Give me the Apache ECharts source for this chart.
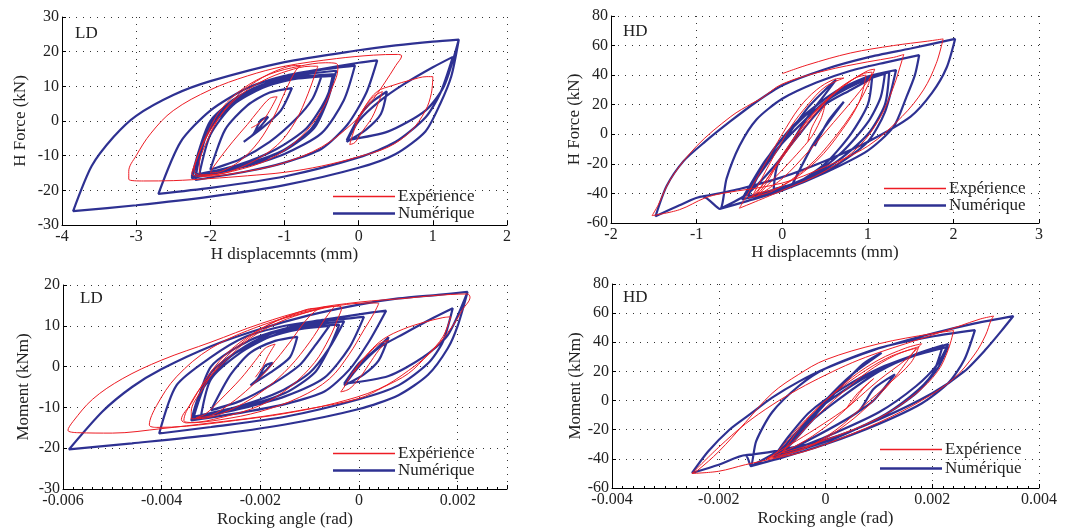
<!DOCTYPE html>
<html>
<head>
<meta charset="utf-8">
<script src="https://cdn.jsdelivr.net/npm/echarts@6/dist/echarts.min.js"></script>
<style>html,body{margin:0;padding:0;background:#fff}#c{width:1084px;height:532px}</style>
</head>
<body>
<div id="c"></div>
<script>
// ---------- DATA ----------
const seriesNames = ['Expérience', 'Numérique'];
const panelLabels = ['LD', 'HD', 'LD', 'HD'];
const xAxisTitles = ['H displacemnts (mm)', 'H displacemnts (mm)', 'Rocking angle (rad)', 'Rocking angle (rad)'];
const yAxisTitles = ['H Force (kN)', 'H Force (kN)', 'Moment (kNm)', 'Moment (kNm)'];
// [min, max, interval]
const xRanges = [[-4, 2, 1], [-2, 3, 1], [-0.006, 0.003, 0.002], [-0.004, 0.004, 0.002]];
const yRanges = [[-30, 30, 10], [-60, 80, 20], [-30, 20, 10], [-60, 80, 20]];

// Panel 1 : LD, H force vs H displacement
const ldForceNum = [
[-1.42,-3.8],[-1.32,-1.5],[-1.22,1.2],[-1.32,0.2],[-1.42,-3.8],
[-1.55,-6],[-1.3,-2],[-1.05,3],[-0.9,9.5],
[-1.2,8.2],[-1.5,4.5],[-1.8,-2.5],[-2.0,-14],
[-1.6,-11],[-1.2,-6],[-0.85,0.5],[-0.62,6.5],[-0.5,13],
[-0.9,12],[-1.3,9.5],[-1.7,4.5],[-2.0,-4],[-2.15,-15.5],
[-1.6,-12.5],[-1.1,-8],[-0.7,-2],[-0.45,6],[-0.3,14.5],
[-0.7,13.5],[-1.2,11],[-1.6,6.5],[-2.0,-2],[-2.25,-16.5],
[-1.6,-13.5],[-1.0,-9.5],[-0.5,-3.5],[-0.2,6],[-0.05,16],
[-0.5,14.8],[-1.0,12.5],[-1.5,8.5],[-2.0,0],[-2.25,-16],
[-1.6,-13],[-1.0,-8.5],[-0.6,-2],[-0.42,6],[-0.32,13.5],
[-0.8,12.6],[-1.3,10.2],[-1.7,6],[-2.0,-1],[-2.2,-15.5],
[-1.6,-12.8],[-1.05,-8.8],[-0.65,-2.5],[-0.45,5],[-0.35,13],
[-0.9,12],[-1.4,9],[-1.8,3.5],[-2.1,-6],[-2.2,-17],
[-1.5,-14.5],[-1.0,-12],[-0.5,-8],[-0.15,-1],[0.1,8],[0.25,17.5],
[0,16.8],[-0.5,15],[-1,13],[-1.5,9.5],[-2,3],[-2.4,-6],[-2.7,-21],
[-2,-19.3],[-1,-16],[0,-10.5],[0.5,-6],[0.9,1],[1.1,8],[1.27,18.5],
[1,15.5],[0.6,10.5],[0.3,6],[0,0],[-0.16,-6],
[0.1,-2.5],[0.3,2],[0.38,8.5],[0.15,5],[0,1],[-0.16,-5.5],
[0.4,-3],[0.9,3],[1.15,10],[1.35,23.5],
[1,22.9],[0.5,21.8],[0,20.4],[-1,17],[-2,11.5],[-2.5,7.5],[-3,1.5],[-3.3,-4.5],[-3.6,-13],[-3.85,-26],
[-3,-24.3],[-2,-21.8],[-1,-18.5],[0,-13.5],[0.5,-9.5],[0.9,-3],[1.1,5],[1.25,13],[1.35,23.5]
];
const ldForceExp = [
[-1.45,-2],[-1.3,0],[-1.2,3],[-1.1,7],[-1.2,6.5],[-1.35,3],[-1.5,-1],[-1.7,-6],[-1.95,-13],
[-2.0,-15],[-1.85,-14.5],[-1.6,-11.5],[-1.35,-6],[-1.15,1],[-0.98,9],[-0.85,14.5],[-0.78,16],[-0.85,16],[-1.05,15],[-1.3,12.5],[-1.6,8],[-1.85,2],[-2.05,-6],[-2.15,-13],[-2.12,-15.5],
[-1.9,-15.3],[-1.5,-12.5],[-1.1,-7],[-0.85,0],[-0.68,8],[-0.58,14],[-0.55,15.8],[-0.65,15.8],[-0.95,14.5],[-1.3,11.5],[-1.65,6.5],[-1.95,-1],[-2.15,-9],[-2.22,-14.5],[-2.1,-15.8],
[-1.7,-14.5],[-1.2,-11],[-0.8,-5],[-0.5,3],[-0.35,10],[-0.28,15],[-0.3,16.6],[-0.45,16.8],[-0.8,15.8],[-1.2,13.5],[-1.55,9.5],[-1.85,3.5],[-2.05,-4],[-2.2,-12],[-2.25,-15.2],[-2.1,-16],
[-1.5,-14.5],[-1.0,-12],[-0.5,-7.5],[-0.1,-1],[0.15,5],[0.35,11],[0.5,16],[0.58,18.8],[0.52,19.2],[0.2,19],[-0.3,18],[-1,15.8],[-1.5,13],[-2,9],[-2.5,3],[-2.8,-3.5],[-3.0,-10],[-3.1,-14.5],[-3.1,-16.8],[-2.9,-17.3],[-2.5,-17.2],[-2,-16.6],[-1.5,-15.8],[-1,-14.8],[-0.5,-13],[0,-10.3],[0.4,-7.5],[0.7,-3],[0.9,3],[0.98,8],[1.0,12.8],[0.92,12.8],[0.7,11.8],[0.45,10.2],[0.25,8.5],[0.08,4],[-0.05,-2],[-0.12,-6.8],[-0.05,-6.2],[0.05,-3],[0.18,1],[0.28,6],[0.32,8.5],[0.2,7],[0.05,3],[-0.05,-1]
];

// Panel 2 : HD, H force vs H displacement
const hdForceNum = [
[0.38,-8],[0.45,0],[0.55,10],[0.72,22],[0.5,5],[0.35,-8],
[0.1,-36],[0.5,-20],[0.8,0],[1.0,20],[1.05,38],
[0.8,30],[0.5,20],[0.2,0],[-0.05,-20],[-0.1,-37],
[0.3,-30],[0.7,-12],[1.0,8],[1.15,25],[1.2,41],
[0.9,35],[0.5,22],[0.1,0],[-0.2,-20],[-0.4,-42],
[0.1,-34],[0.6,-20],[1.0,0],[1.2,20],[1.25,42],
[0.9,36],[0.5,24],[0.1,3],[-0.2,-18],[-0.47,-44],
[0.0,-37],[0.6,-22],[1.0,-5],[1.2,15],[1.33,43.5],
[1.0,39],[0.6,28],[0.2,10],[-0.1,-10],[-0.3,-28],[-0.47,-44],
[-0.3,-30],[0,-6],[0.3,18],[0.5,30],[0.63,37],[0.5,27],[0.3,12],
[0,-15],[-0.4,-40],[-0.73,-50.5],
[-0.4,-45],[0,-38],[0.5,-26],[1,-11],[1.3,5],[1.45,25],[1.55,40],[1.6,53.5],
[1.2,48.5],[0.8,43],[0.4,35],[0,24],[-0.3,10],[-0.5,-8],[-0.65,-30],[-0.73,-50.5],
[-0.93,-42],[-1.2,-48],[-1.48,-55.5],
[-1.35,-35],[-1.15,-18],[-0.9,-5],[-0.6,9],[-0.3,22],[0,33],[0.5,44],[1,52],[1.5,58],[2.02,64.5],
[1.92,45],[1.75,28],[1.5,12],[1,-5],[0.5,-18],[0,-29],[-0.5,-37],[-0.93,-42]
];
const hdForceExp = [
[0.3,-5],[0.35,5],[0.5,20],[0.45,10],[0.3,-5],
[-0.3,-42],[0,-30],[0.3,-12],[0.6,8],[0.85,25],[1.05,40],[1.08,44],[1.0,43],[0.8,36],[0.5,22],[0.2,2],[-0.05,-20],[-0.25,-38],[-0.4,-43],
[-0.1,-38],[0.3,-22],[0.6,-3],[0.85,17],[1.0,33],[1.05,42],[0.95,41],[0.7,32],[0.4,15],[0.1,-8],[-0.15,-28],[-0.3,-40],
[0,-35],[0.4,-18],[0.7,3],[0.9,22],[0.98,40],[0.85,38],[0.6,28],[0.3,10],[0.0,-14],[-0.2,-32],[-0.35,-42],
[-0.1,-15],[0.1,5],[0.3,20],[0.5,32],[0.72,38],[0.6,37],[0.4,30],[0.2,18],[0,0],[-0.2,-20],[-0.45,-45],[-0.5,-50],
[0,-38],[0.5,-25],[0.9,-8],[1.15,12],[1.3,32],[1.4,50],[1.42,54],[1.3,52],[1.0,49],[0.5,43],[0,34],[-0.25,24],[-0.35,21],
[-0.6,12],[-1.0,-8],[-1.3,-30],[-1.45,-48],[-1.52,-55],
[-1.2,-51],[-0.9,-43],[-0.7,-40],[0,-33],[0.5,-22],[1,-8],[1.4,12],[1.65,30],[1.8,48],[1.88,64.5],
[1.7,63],[1.3,60],[0.8,55],[0.3,47],[0,41]
];

// Panel 3 : LD, moment vs rocking angle
const ldMomentNum = [
[-0.00205,-2.9],[-0.0019,-1.1],[-0.00175,0.9],[-0.0019,0.2],[-0.00205,-2.9],
[-0.0022,-4.6],[-0.0018,-1.5],[-0.0014,2.3],[-0.00125,7.3],
[-0.0017,6.3],[-0.0022,3.4],[-0.0026,-1.9],[-0.003,-10.7],
[-0.0024,-8.4],[-0.0018,-4.6],[-0.0012,0.4],[-0.0009,5],[-0.0006,10],
[-0.0012,9.2],[-0.0018,7.3],[-0.0024,3.4],[-0.003,-3.1],[-0.0032,-11.9],
[-0.0024,-9.6],[-0.0016,-6.1],[-0.001,-1.5],[-0.0006,4.6],[-0.0003,11.1],
[-0.0009,10.3],[-0.0017,8.4],[-0.0023,5],[-0.003,-1.5],[-0.00336,-12.7],
[-0.0024,-10.3],[-0.0015,-7.3],[-0.0007,-2.7],[-0.0002,4.6],[0.0001,12.2],
[-0.0006,11.3],[-0.0014,9.6],[-0.0022,6.5],[-0.003,0],[-0.00336,-12.3],
[-0.0024,-10],[-0.0015,-6.5],[-0.0009,-1.5],[-0.0006,4.6],[-0.0004,10.3],
[-0.0011,9.6],[-0.0018,7.3],[-0.0026,2.5],[-0.0032,-6],[-0.0034,-13.2],
[-0.0023,-11.1],[-0.0015,-9.2],[-0.0007,-6.1],[-0.0002,-0.8],[0.0002,6.1],[0.00055,13.7],
[0.0001,13],[-0.0007,11.5],[-0.0015,10],[-0.0023,7.3],[-0.003,2.3],[-0.0037,-4.6],[-0.00405,-16.4],
[-0.003,-14.8],[-0.0015,-12.3],[0,-8],[0.0008,-4.6],[0.0014,0.8],[0.0017,6.1],[0.0019,14.3],
[0.0015,11.9],[0.0009,8],[0.0004,4.6],[0,0],[-0.0003,-4.6],
[0.0001,-1.9],[0.0004,1.5],[0.0006,7.2],[0.0003,3.8],[0,0.8],[-0.0003,-4.2],
[0.0006,-2.3],[0.0013,2.3],[0.0018,7.7],[0.0022,18.3],
[0.0016,17.6],[0.0008,16.7],[0,15.2],[-0.001,12.6],[-0.002,9.2],[-0.003,5],[-0.004,-0.6],[-0.0046,-5],[-0.0052,-11],[-0.00588,-20.3],
[-0.0046,-18.8],[-0.003,-16.8],[-0.0015,-14.2],[0,-10.4],[0.0008,-7],[0.0014,-2],[0.0018,4.5],[0.002,10],[0.0022,18.3]
];
const ldMomentExp = [
[-0.0021,-2.6],[-0.00195,0],[-0.00185,2.5],[-0.0017,5.5],[-0.0019,4.5],[-0.0021,1.5],[-0.0024,-3],[-0.0028,-8],[-0.0031,-11.5],
[-0.0033,-12.5],[-0.003,-12],[-0.0026,-9],[-0.0022,-5],[-0.0018,0],[-0.0014,6],[-0.0011,11],[-0.0009,13.5],[-0.00078,14.3],[-0.0009,14.3],[-0.0013,13],[-0.0018,10.5],[-0.0023,6.5],[-0.0028,1],[-0.0032,-6],[-0.0034,-11],[-0.0034,-12.8],
[-0.0031,-12.6],[-0.0025,-10],[-0.0019,-5.5],[-0.0014,0],[-0.001,6],[-0.0007,11.5],[-0.00055,14],[-0.0005,14.7],[-0.0006,14.7],[-0.001,13.5],[-0.0016,11],[-0.0022,7],[-0.0027,1.5],[-0.0032,-5],[-0.0035,-11],[-0.00355,-13.2],[-0.0034,-13.7],
[-0.0028,-12.5],[-0.002,-9.5],[-0.0014,-5],[-0.0009,1],[-0.0006,7],[-0.00042,12],[-0.00035,14.5],[-0.00045,14.8],[-0.0009,14],[-0.0015,12],[-0.0021,8.5],[-0.0027,3],[-0.0031,-3],[-0.0034,-9],[-0.0036,-13],[-0.0035,-13.8],
[-0.0028,-13],[-0.002,-11],[-0.0012,-7.5],[-0.0006,-3],[-0.0002,3],[0.0001,9],[0.0003,13],[0.0004,15.5],[0.0002,15.6],[-0.0004,15],[-0.001,13.5],[-0.002,10],[-0.003,4.5],[-0.0037,-2.5],[-0.0041,-9.5],[-0.00425,-14.3],[-0.0041,-14.9],
[-0.0035,-14.6],[-0.0025,-13.2],[-0.0015,-11.5],[-0.0005,-9],[0.0004,-5.5],[0.001,-1],[0.0015,4],[0.0019,10],[0.0021,14],[0.00225,17],[0.0022,17.8],[0.0015,17.4],[0.001,16.8],[0,15.8],[-0.001,14],[-0.002,10.5],[-0.003,6],[-0.004,1.6],[-0.0048,-3],[-0.0054,-8],[-0.0058,-13.5],[-0.0059,-15.6],[-0.0057,-16.2],
[-0.005,-16.3],[-0.004,-15.2],[-0.003,-13.8],[-0.002,-12.3],[-0.001,-10.3],[0,-7.8],[0.0005,-5],[0.001,-1.7],[0.0014,3],[0.0017,7.3],[0.00186,12.2],
[0.0017,12],[0.0013,10.8],[0.0009,9.2],[0.0005,6.8],[0.0002,3.5],[-0.0001,-1],[-0.0003,-5],[-0.00037,-6.2],[-0.0002,-5.5],[0,-3],[0.0002,0.5],[0.0004,4],[0.0006,6.5],[0.0004,5.5],[0.0001,2],[-0.0001,-1.5]
];

// Panel 4 : HD, moment vs rocking angle
const hdMomentNum = [
[0.0006,-8],[0.0009,0],[0.0013,18],[0.0009,8],[0.0006,-8],
[-0.0009,-38],[0,-25],[0.001,-8],[0.0017,10],[0.0021,25],[0.0023,38.8],
[0.0018,33],[0.001,22],[0.0003,8],[-0.0003,-8],[-0.0007,-25],[-0.00097,-39],
[0,-28],[0.001,-12],[0.0016,3],[0.002,18],[0.0022,38],
[0.0017,32],[0.001,20],[0.0004,5],[-0.0002,-12],[-0.0006,-28],[-0.0009,-38],
[0.0001,-27],[0.0011,-10],[0.0017,5],[0.0021,22],[0.0023,37],
[0.0016,30],[0.0008,17],[0,-2],[-0.0005,-20],[-0.0009,-37],
[-0.0004,-18],[0,0],[0.0005,18],[0.00105,32.8],[0.0007,25],[0.0003,10],[-0.0002,-10],[-0.0007,-30],[-0.0014,-45],
[-0.0008,-39],[0,-30],[0.001,-16],[0.0018,-2],[0.0023,12],[0.0026,28],[0.0028,48.4],
[0.002,44],[0.001,36],[0,22],[-0.0005,10],[-0.001,-8],[-0.0013,-28],[-0.0014,-45],
[-0.0015,-37.5],[-0.002,-44],[-0.0025,-49.7],
[-0.0022,-35],[-0.0018,-20],[-0.0014,-9],[-0.001,2],[-0.0005,13],[0,22],[0.0009,34.6],[0.002,46],[0.0028,53],[0.00352,58],
[0.0033,48],[0.003,35],[0.0026,20],[0.002,5],[0.001,-13],[0,-27],[-0.001,-35],[-0.0015,-37.5]
];
const hdMomentExp = [
[0.0004,-5],[0.0006,5],[0.0009,15],[0.0007,8],[0.0004,-5],
[-0.0011,-40],[-0.0005,-30],[0,-18],[0.0005,-2],[0.001,14],[0.0015,28],[0.0018,39],[0.0015,36],[0.001,28],[0.0005,16],[0,0],[-0.0005,-18],[-0.0009,-35],[-0.0011,-40],
[-0.0004,-33],[0.0002,-20],[0.0007,-4],[0.0012,12],[0.0016,26],[0.00175,37],[0.0013,31],[0.0008,20],[0.0003,5],[-0.0002,-12],[-0.0006,-28],[-0.0009,-38],
[-0.0002,-30],[0.0004,-16],[0.0009,0],[0.0013,16],[0.0017,36],[0.0012,30],[0.0006,17],[0,0],[-0.0004,-15],[-0.0007,-30],[-0.0008,-36],
[0,-27],[0.001,-12],[0.0017,5],[0.0021,20],[0.0023,35],[0.0024,48],[0.002,46],[0.001,39],[0,28],[-0.0005,18],[-0.001,5],[-0.0015,-15],[-0.002,-35],[-0.0024,-48],[-0.0025,-50],
[-0.002,-48.5],[-0.0015,-44],[-0.001,-40],[-0.0005,-36],[0,-30],[0.001,-15],[0.0018,0],[0.0024,15],[0.0028,32],[0.003,45],[0.0031,55],[0.00315,58],
[0.0029,56],[0.0025,51],[0.002,45],[0.0015,39],[0.001,33],[0.0005,26],[0,17.5],[-0.0005,8],[-0.001,-3],[-0.0015,-16],[-0.002,-32],[-0.0025,-50]
];

const panels = [
  {num: ldForceNum, exp: ldForceExp},
  {num: hdForceNum, exp: hdForceExp},
  {num: ldMomentNum, exp: ldMomentExp},
  {num: hdMomentNum, exp: hdMomentExp}
];

// ---------- LAYOUT / STYLE ----------
const FONT = '"Liberation Serif","Times New Roman",serif';
const RED = '#ed1c24', BLUE = '#2e3192';
const grids = [
  {left: 62, top: 17, width: 445, height: 208},
  {left: 611, top: 16, width: 428, height: 207},
  {left: 63, top: 285, width: 444, height: 204},
  {left: 612, top: 284, width: 427, height: 204}
];
const xNameGap = [19, 19, 22, 22];
const yNameGap = [33, 27, 31, 27];
const legendPos = [[333, 188, 0], [884, 180, 0], [333, 445, 0], [880, 441, 2]];
const labelPos = [[75, 25], [623, 23], [80, 290], [623, 289]];

function fmt(v, r) {
  if (Math.abs(v - r[1]) < 1e-12 && Math.abs(Math.round((r[1] - r[0]) / r[2]) * r[2] - (r[1] - r[0])) > 1e-12) return '';
  return String(+v.toFixed(6));
}

const xAxis = [], yAxis = [], series = [], legend = [], graphic = [];
for (let i = 0; i < 4; i++) {
  const xr = xRanges[i], yr = yRanges[i];
  const common = {
    axisLine: {show: true, onZero: false, lineStyle: {color: '#000', width: 1}},
    axisTick: {show: true, inside: true, length: 4, lineStyle: {color: '#000'}},
    splitLine: {show: true, lineStyle: {color: '#333', type: [1, 6], width: 1}},
    nameTextStyle: {fontFamily: FONT, fontSize: 17, color: '#222'}
  };
  xAxis.push(Object.assign({}, common, {
    type: 'value', gridIndex: i, min: xr[0], max: xr[1], interval: xr[2],
    name: xAxisTitles[i], nameLocation: 'middle', nameGap: xNameGap[i],
    minorTick: {show: i >= 2, splitNumber: 10, length: 2, lineStyle: {color: '#000'}},
    axisLabel: {fontFamily: FONT, fontSize: 16, color: '#222', margin: 4, formatter: v => fmt(v, xr)}
  }));
  yAxis.push(Object.assign({}, common, {
    type: 'value', gridIndex: i, min: yr[0], max: yr[1], interval: yr[2],
    name: yAxisTitles[i], nameLocation: 'middle', nameGap: yNameGap[i], nameRotate: 90,
    axisLabel: {fontFamily: FONT, fontSize: 16, color: '#222', margin: 3}
  }));
  series.push({
    name: seriesNames[1], type: 'line', xAxisIndex: i, yAxisIndex: i,
    data: panels[i].num, showSymbol: false, symbol: 'none', smooth: 0.25,
    lineStyle: {color: BLUE, width: 2.2}, itemStyle: {color: BLUE}, z: 2
  });
  series.push({
    name: seriesNames[0], type: 'line', xAxisIndex: i, yAxisIndex: i,
    data: panels[i].exp, showSymbol: false, symbol: 'none', smooth: 0.35,
    lineStyle: {color: RED, width: 1}, itemStyle: {color: RED}, z: 3
  });
  legend.push({
    data: [
      {name: seriesNames[0], icon: 'path://M0,0H62V1.5H0Z', itemStyle: {color: RED}},
      {name: seriesNames[1], icon: 'path://M0,0H62V2.6H0Z', itemStyle: {color: BLUE}}
    ],
    orient: 'vertical', left: legendPos[i][0], top: legendPos[i][1],
    itemWidth: 62, itemHeight: 14, itemGap: legendPos[i][2], padding: 0,
    selectedMode: false, symbolKeepAspect: true,
    textStyle: {fontFamily: FONT, fontSize: 17, color: '#222', lineHeight: 16, padding: [0, 0, 0, -2]}
  });
  graphic.push({
    type: 'text', left: labelPos[i][0], top: labelPos[i][1],
    style: {text: panelLabels[i], font: '17px ' + FONT, fill: '#222'}
  });
}

const chart = echarts.init(document.getElementById('c'), null, {renderer: 'canvas'});
chart.setOption({
  animation: false,
  backgroundColor: '#fff',
  grid: grids,
  xAxis: xAxis,
  yAxis: yAxis,
  legend: legend,
  graphic: graphic,
  series: series
});
</script>
</body>
</html>
